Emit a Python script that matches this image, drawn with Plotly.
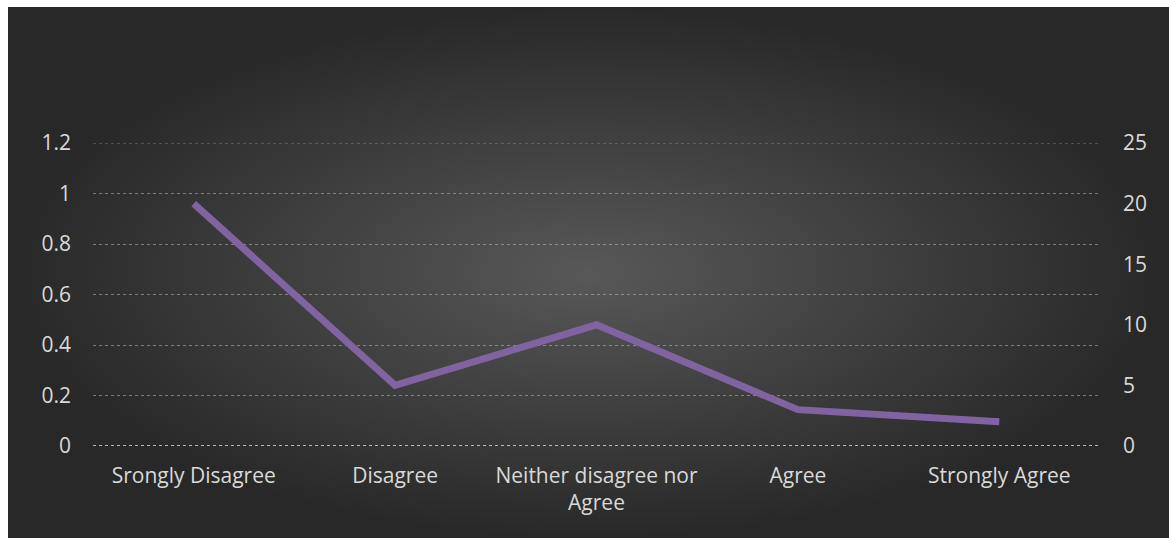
import plotly.graph_objects as go

categories = ["Srongly Disagree", "Disagree", "Neither disagree nor<br>Agree", "Agree", "Strongly Agree"]
values = [20, 5, 10, 3, 2]
left_ticks = [0, 0.2, 0.4, 0.6, 0.8, 1, 1.2]
right_ticks = [0, 5, 10, 15, 20, 25]

W, H = 1169, 538
FONT = "Open Sans"
TXT = "#d9d9d9"
FS = 21

fig = go.Figure()

# background panel with radial gradient (decoration, own hidden axes)
x0, y1 = 8 / W, 1 - 7 / H
fig.add_trace(go.Scatter(
    x=[x0, 1, 1, x0, x0], y=[0, 0, y1, y1, 0],
    xaxis="x", yaxis="y", mode="lines", line=dict(width=0),
    fill="toself",
    fillgradient=dict(type="radial", colorscale=[[0, "#585858"], [0.5, "#404040"], [1, "#282828"]]),
    hoverinfo="skip", showlegend=False,
))

# empty trace anchoring the left-axis subplot
fig.add_trace(go.Scatter(x=[], y=[], xaxis="x2", yaxis="y2", showlegend=False, hoverinfo="skip"))

fig.add_trace(go.Scatter(
    x=categories, y=values, xaxis="x2", yaxis="y3", mode="lines",
    line=dict(color="#8064A2", width=7), showlegend=False,
))

ybot, ytop = 1 - 446 / H, 1 - 143 / H

fig.update_layout(
    width=W, height=H,
    margin=dict(l=0, r=0, t=0, b=0, pad=0, autoexpand=False),
    paper_bgcolor="white", plot_bgcolor="rgba(0,0,0,0)",
    font=dict(family=FONT, color=TXT, size=FS),
    xaxis=dict(domain=[0, 1], range=[0, 1], visible=False, fixedrange=True, automargin=False),
    yaxis=dict(domain=[0, 1], range=[0, 1], visible=False, fixedrange=True, automargin=False),
    xaxis2=dict(
        domain=[93 / W, 1100 / W], anchor="y2", type="category",
        categoryorder="array", categoryarray=categories,
        range=[-0.5, 4.5], showgrid=False, zeroline=False, showline=False,
        ticks="", ticklabelstandoff=15, tickfont=dict(size=FS, color=TXT), automargin=False,
    ),
    yaxis2=dict(
        domain=[ybot, ytop], anchor="x2", range=[0, 1.2],
        tickvals=left_ticks, ticktext=[f"{v:g}" for v in left_ticks],
        showgrid=True, gridcolor="rgba(200,200,200,0.5)", griddash="dot", gridwidth=1,
        zeroline=False, showline=False, ticks="", ticklabelstandoff=21,
        tickfont=dict(size=FS, color=TXT), automargin=False,
    ),
    yaxis3=dict(
        overlaying="y2", side="right", anchor="x2", range=[0, 25],
        tickvals=right_ticks, showgrid=False, zeroline=False, showline=False,
        ticks="", ticklabelstandoff=22, tickfont=dict(size=FS, color=TXT), automargin=False,
    ),
)

fig.add_shape(type="line", xref="x2 domain", yref="y2", x0=0, x1=1, y0=1.2, y1=1.2,
              line=dict(color="rgba(200,200,200,0.5)", width=1, dash="dot"))
fig.add_shape(type="line", xref="x2 domain", yref="y2", x0=0, x1=1, y0=0, y1=0,
              line=dict(color="rgba(220,220,220,0.8)", width=2, dash="dot"))

fig.write_html("out.html")
